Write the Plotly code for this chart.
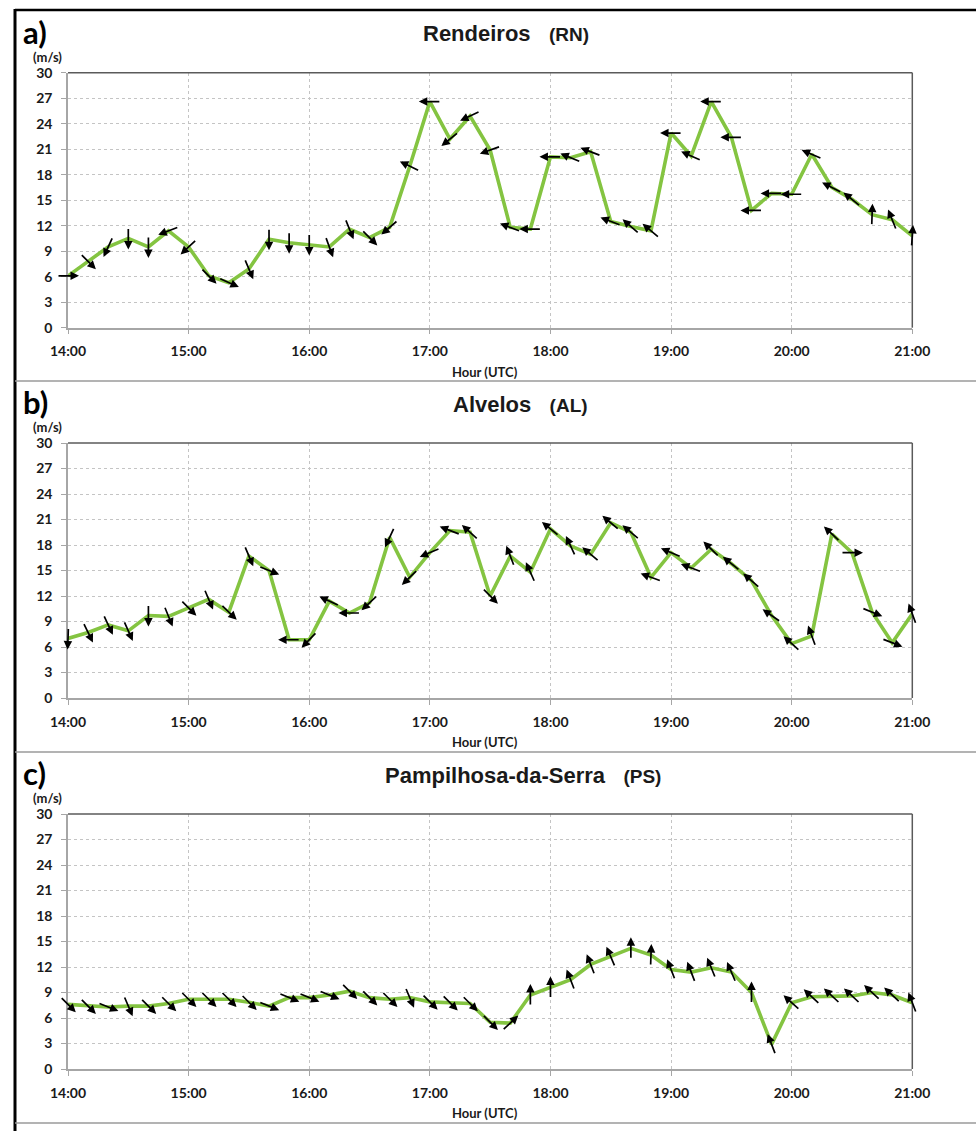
import math
import plotly.graph_objects as go

# ---------------- data ----------------
times = ["14:00", "14:10", "14:20", "14:30", "14:40", "14:50",
         "15:00", "15:10", "15:20", "15:30", "15:40", "15:50",
         "16:00", "16:10", "16:20", "16:30", "16:40", "16:50",
         "17:00", "17:10", "17:20", "17:30", "17:40", "17:50",
         "18:00", "18:10", "18:20", "18:30", "18:40", "18:50",
         "19:00", "19:10", "19:20", "19:30", "19:40", "19:50",
         "20:00", "20:10", "20:20", "20:30", "20:40", "20:50",
         "21:00"]
hour_ticks = ["14:00", "15:00", "16:00", "17:00", "18:00", "19:00", "20:00", "21:00"]
y_ticks = [0, 3, 6, 9, 12, 15, 18, 21, 24, 27, 30]

# wind speed (m/s)
rn_speed = [6.1, 7.8, 9.5, 10.5, 9.5, 11.4,
            9.5, 6.1, 5.3, 6.9, 10.4, 10.0,
            9.8, 9.5, 11.6, 10.6, 11.8, 19.0,
            26.6, 22.2, 24.9, 20.9, 11.8, 11.6,
            20.1, 20.0, 20.7, 12.5, 11.9, 11.4,
            22.9, 20.2, 26.6, 22.4, 13.8, 15.8,
            15.7, 20.4, 16.5, 15.1, 13.3, 12.7,
            10.8]
al_speed = [7.0, 7.7, 8.6, 7.9, 9.7, 9.6,
            10.6, 11.6, 10.1, 16.7, 15.0, 6.85,
            6.85, 11.4, 10.0, 11.2, 18.9, 14.2,
            17.1, 19.7, 19.5, 12.0, 16.7, 14.8,
            19.9, 17.9, 16.9, 20.6, 19.5, 14.2,
            17.1, 15.3, 17.5, 15.8, 13.8, 9.7,
            6.4, 7.3, 19.3, 17.1, 10.1, 6.5,
            9.9]
ps_speed = [7.6, 7.4, 7.3, 7.4, 7.4, 7.7,
            8.2, 8.2, 8.2, 7.85, 7.4, 8.4,
            8.4, 8.7, 9.15, 8.4, 8.2, 8.4,
            7.9, 7.8, 7.7, 5.5, 5.4, 8.7,
            9.6, 10.5, 12.3, 13.2, 14.2, 13.4,
            11.7, 11.4, 11.9, 11.4, 9.0, 2.9,
            7.8, 8.5, 8.6, 8.6, 9.0, 8.7,
            7.8]

# direction the arrows point to (degrees clockwise from north)
rn_dir = [90, 135, 205, 180, 180, 249,
          227, 135, 114, 157, 180, 180,
          180, 160, 158, 135, 229, 296,
          270, 231, 245, 250, 291, 270,
          270, 292, 291, 291, 311, 310,
          270, 294, 270, 270, 270, 270,
          270, 293, 297, 309, 2, 338,
          4]
al_dir = [182, 154, 155, 156, 180, 158,
          135, 157, 134, 157, 112, 270,
          224, 295, 270, 227, 205, 226,
          247, 291, 312, 135, 339, 336,
          309, 335, 310, 310, 310, 290,
          293, 291, 314, 309, 311, 305,
          312, 340, 313, 90, 112, 111,
          340]
ps_dir = [135, 135, 112, 157, 135, 135,
          135, 135, 135, 135, 112, 112,
          112, 112, 135, 135, 135, 157,
          135, 135, 135, 135, 47, 0,
          0, 339, 339, 337, 0, 2,
          339, 339, 338, 337, 0, 339,
          312, 313, 313, 313, 313, 313,
          339]

panels = [
    ("a)", "Rendeiros", "(RN)", rn_speed, rn_dir),
    ("b)", "Alvelos", "(AL)", al_speed, al_dir),
    ("c)", "Pampilhosa-da-Serra", "(PS)", ps_speed, ps_dir),
]

# ---------------- layout geometry (pixels) ----------------
W, H = 976, 1131
PLOT_L, PLOT_R = 68, 912.3
PLOT_TOPS = [72.7, 443, 814]
PLOT_H = 255
TITLE_CX = [506, 520, 523]
SEP_Y = [381, 752, 1123]


def px(x):
    return x / W


def py(y):
    return 1 - y / H


def to_min(t):
    h, m = t.split(":")
    return (int(h) - 14) * 60 + int(m)


xmin = [to_min(t) for t in times]
hour_vals = [to_min(t) for t in hour_ticks]

GREEN = "#84c441"
AXIS_GRAY = "#a6a6a6"
GRID_GRAY = "#c4c4c4"
TXT = "#1a1a1a"

fig = go.Figure()
ARROW_L = 22

for i, (lab, name, code, spd, drc) in enumerate(panels):
    k = "" if i == 0 else str(i + 1)
    xr, yr = "x" + k, "y" + k
    top = PLOT_TOPS[i]
    bot = top + PLOT_H

    fig.add_trace(go.Scatter(x=xmin, y=spd, mode="lines", xaxis=xr, yaxis=yr,
                             line=dict(color=GREEN, width=3.6), showlegend=False,
                             hoverinfo="skip"))

    common_x = dict(domain=[px(PLOT_L), px(PLOT_R)], range=[0, 420], anchor=yr,
                    tickvals=hour_vals, ticktext=hour_ticks, showgrid=True,
                    gridcolor=GRID_GRAY, griddash="dot", gridwidth=1,
                    showline=True, linecolor=AXIS_GRAY, linewidth=1.5,
                    ticks="outside", ticklen=5, tickcolor=AXIS_GRAY, tickwidth=1,
                    zeroline=False, ticklabelstandoff=5, automargin=False,
                    tickfont=dict(family="Lato", size=14, color=TXT, weight="bold"),
                    fixedrange=True)
    common_y = dict(domain=[py(bot), py(top)], range=[0, 30], anchor=xr,
                    tickvals=y_ticks, showgrid=True, gridcolor=GRID_GRAY,
                    griddash="dot", gridwidth=1, showline=True, linecolor=AXIS_GRAY,
                    linewidth=1.5, ticks="outside", ticklen=5, tickcolor=AXIS_GRAY,
                    tickwidth=1, zeroline=False, ticklabelstandoff=6, automargin=False,
                    tickfont=dict(family="Lato", size=14, color=TXT, weight="bold"),
                    fixedrange=True)
    fig.update_layout(**{"xaxis" + k: common_x, "yaxis" + k: common_y})

    # darker top / right frame of plot area
    fig.add_shape(type="line", xref=xr + " domain", yref=yr + " domain",
                  x0=0, x1=1, y0=1, y1=1, line=dict(color="#5a5a5a", width=1.5))
    fig.add_shape(type="line", xref=xr + " domain", yref=yr + " domain",
                  x0=1, x1=1, y0=0, y1=1, line=dict(color="#5a5a5a", width=1.5))

    # wind direction arrows centred on each point
    for t, v, d in zip(xmin, spd, drc):
        th = math.radians(d)
        sx, sy = math.sin(th), math.cos(th)
        fig.add_annotation(x=t, y=v, xref=xr, yref=yr, text="", showarrow=True,
                           axref="pixel", ayref="pixel",
                           ax=-ARROW_L * sx, ay=ARROW_L * sy,
                           xshift=ARROW_L / 2 * sx, yshift=ARROW_L / 2 * sy,
                           arrowhead=2, arrowsize=1.0, arrowwidth=1.7,
                           arrowcolor="black", standoff=0)

    # panel letter
    fig.add_annotation(xref="paper", yref="paper", x=px(21), y=py(top - 41),
                       xanchor="left", yanchor="middle", showarrow=False,
                       text="<b>" + lab + "</b>",
                       font=dict(family="Lato", size=31, color="black"))
    # title
    fig.add_annotation(xref="paper", yref="paper", x=px(TITLE_CX[i]), y=py(top - 39),
                       xanchor="center", yanchor="middle", showarrow=False,
                       text="<b>" + name + "</b>   <span style='font-size:19px'><b>"
                            + code + "</b></span>",
                       font=dict(family="Liberation Sans", size=22, color=TXT))
    # unit label
    fig.add_annotation(xref="paper", yref="paper", x=px(47.5), y=py(top - 16),
                       xanchor="center", yanchor="middle", showarrow=False,
                       text="<b>(m/s)</b>",
                       font=dict(family="Lato", size=13, color=TXT))
    # x-axis title
    fig.add_annotation(xref="paper", yref="paper", x=px(485), y=py(bot + 44),
                       xanchor="center", yanchor="middle", showarrow=False,
                       text="<b>Hour (UTC)</b>",
                       font=dict(family="Lato", size=13, color=TXT))

# outer frame lines
fig.add_shape(type="line", xref="paper", yref="paper", x0=px(15), x1=1,
              y0=py(10), y1=py(10), line=dict(color="black", width=2.5))
fig.add_shape(type="line", xref="paper", yref="paper", x0=px(15), x1=px(15),
              y0=py(9), y1=0, line=dict(color="black", width=3))
for sy_ in SEP_Y:
    fig.add_shape(type="line", xref="paper", yref="paper", x0=px(15), x1=1,
                  y0=py(sy_), y1=py(sy_), line=dict(color="#9a9a9a", width=1.5))

fig.update_layout(width=W, height=H, autosize=False,
                  margin=dict(l=0, r=0, t=0, b=0, pad=0, autoexpand=False),
                  paper_bgcolor="white", plot_bgcolor="white", showlegend=False)

fig.write_html("out.html")
